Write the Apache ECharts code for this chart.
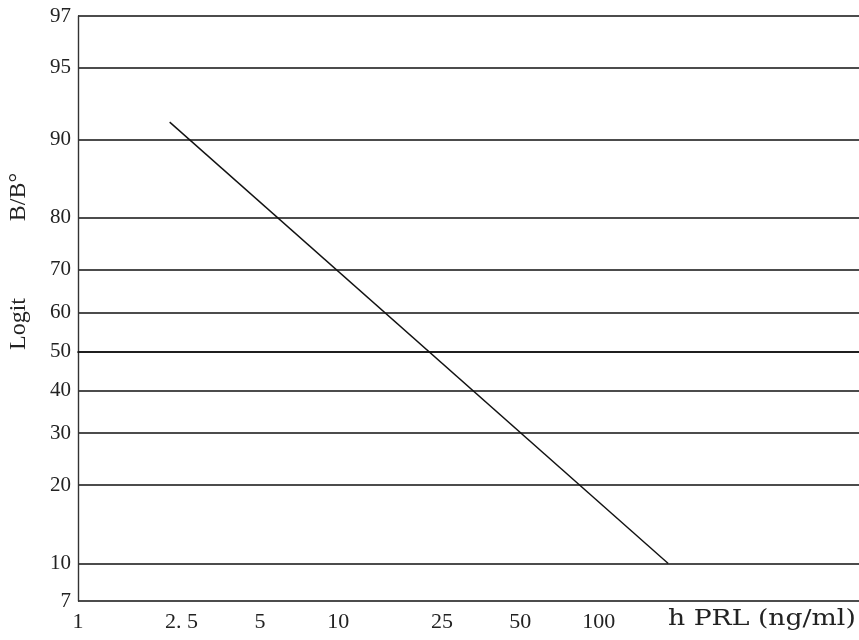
<!DOCTYPE html>
<html>
<head>
<meta charset="utf-8">
<script src="https://cdn.jsdelivr.net/npm/echarts@6/dist/echarts.min.js"></script>
<style>
html,body{margin:0;padding:0;background:#fff;}
#chart{width:859px;height:640px;}
</style>
</head>
<body>
<div id="chart"></div>
<script>
// ---- data ----
const xTickValues = [1, 2.5, 5, 10, 25, 50, 100];          // h PRL (ng/ml), log scale
const xTickLabels = ['1', '2. 5', '5', '10', '25', '50', '100'];
const yTickValues = [7, 10, 20, 30, 40, 50, 60, 70, 80, 90, 95, 97]; // B/B° (%), logit scale
const yTickLabels = ['7', '10', '20', '30', '40', '50', '60', '70', '80', '90', '95', '97'];
const lineConc = [2.25, 185];   // ng/ml
const lineBB0  = [91.5, 10];    // %
const xMin = 1, xMax = 1000;
const yMin = 7, yMax = 97;

// ---- scale transforms ----
const lg = v => Math.log10(v);
const logit = p => Math.log((p / 100) / (1 - p / 100));

const xCustom = xTickValues.map(lg);
const yCustom = yTickValues.map(logit);
const near = (a, b) => Math.abs(a - b) < 1e-6;
const xFmt = v => { const i = xCustom.findIndex(c => near(c, v)); return i >= 0 ? xTickLabels[i] : ''; };
const yFmt = v => { const i = yCustom.findIndex(c => near(c, v)); return i >= 0 ? yTickLabels[i] : ''; };

const lineData = lineConc.map((c, i) => [lg(c), logit(lineBB0[i])]);

const chart = echarts.init(document.getElementById('chart'), null, {renderer: 'canvas'});
chart.setOption({
  backgroundColor: '#ffffff',
  animation: false,
  grid: {left: 78, right: 0, top: 16, bottom: 39, containLabel: false, outerBoundsMode: 'none'},
  xAxis: {
    type: 'value',
    min: lg(xMin), max: lg(xMax),
    axisLine: {show: true, lineStyle: {color: '#111', width: 1.7}},
    axisTick: {show: false, customValues: xCustom},
    splitLine: {show: false},
    axisLabel: {
      customValues: xCustom,
      formatter: xFmt,
      color: '#222',
      fontFamily: 'Liberation Serif',
      fontSize: 22,
      margin: 10
    }
  },
  yAxis: {
    type: 'value',
    min: logit(yMin), max: logit(yMax),
    axisLine: {show: true, lineStyle: {color: '#333', width: 1.4}},
    axisTick: {show: false, customValues: yCustom},
    splitLine: {show: true, lineStyle: {color: '#111', width: 1.7}},
    axisLabel: {
      customValues: yCustom,
      formatter: yFmt,
      color: '#222',
      fontFamily: 'Liberation Serif',
      fontSize: 21,
      margin: 7
    }
  },
  graphic: [
    {type: 'text', left: 7, top: 298, rotation: Math.PI / 2,
      style: {text: 'Logit', fontFamily: 'Liberation Serif', fontSize: 24, fill: '#222'}},
    {type: 'text', left: 7, top: 173, rotation: Math.PI / 2,
      style: {text: 'B/B°', fontFamily: 'Liberation Serif', fontSize: 24, fill: '#222'}},
    {type: 'text', x: 668, y: 608, scaleX: 1.16,
      style: {text: 'h PRL (ng/ml)', fontFamily: 'DejaVu Serif', fontSize: 23, fill: '#222'}}
  ],
  series: [{
    type: 'line',
    data: lineData,
    symbol: 'none',
    lineStyle: {color: '#111', width: 1.4},
    silent: true
  }]
});
</script>
</body>
</html>
